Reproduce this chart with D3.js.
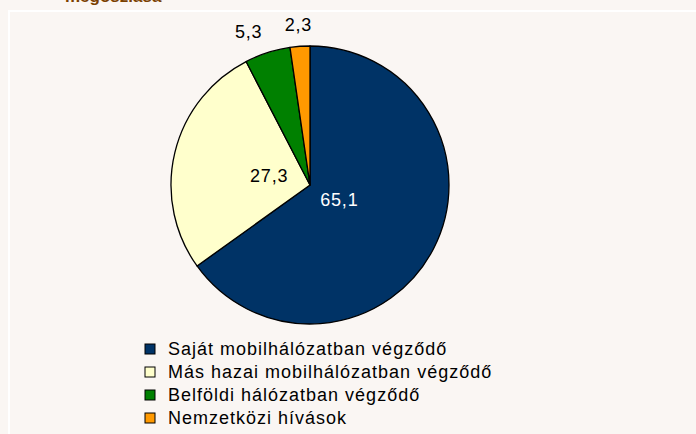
<!DOCTYPE html>
<meta charset="utf-8">
<html>
<head>
<style>
  body { margin: 0; background: #faf6f3; }
  svg { display: block; font-family: "Liberation Sans", Arial, sans-serif; }
</style>
</head>
<body>
<svg width="696" height="434"></svg>
<script src="https://cdnjs.cloudflare.com/ajax/libs/d3/7.8.5/d3.min.js"></script>
<script>
// data
var categories = ["Saját mobilhálózatban végződő", "Más hazai mobilhálózatban végződő",
                  "Belföldi hálózatban végződő", "Nemzetközi hívások"];
var values = [65.1, 27.3, 5.3, 2.3];
var labels = ["65,1", "27,3", "5,3", "2,3"];
var colors = ["#003366", "#ffffcc", "#008000", "#ff9900"];

var svg = d3.select("svg");

// white frame
svg.append("rect")
  .attr("x", 9).attr("y", 11)
  .attr("width", 700).attr("height", 440)
  .attr("fill", "none")
  .attr("stroke", "#ffffff")
  .attr("stroke-width", 2);

// title, cut off at the top as in the original
svg.append("text")
  .attr("x", 65).attr("y", 2)
  .attr("fill", "#7a4000")
  .style("font-size", "17px")
  .style("font-weight", "bold")
  .text("megoszlása");

var cx = 310, cy = 185, r = 139;
var g = svg.append("g").attr("transform", "translate(" + cx + "," + cy + ")");

var pie = d3.pie().sort(null).value(function(d) { return d; });
var arcs = pie(values);
var arc = d3.arc().innerRadius(0).outerRadius(r);

g.selectAll("path")
  .data(arcs)
  .enter().append("path")
  .attr("d", arc)
  .attr("fill", function(d, i) { return colors[i]; })
  .attr("stroke", "#000")
  .attr("stroke-width", 1.3)
  .attr("stroke-linejoin", "round");

// labels: big slices inside, small ones outside
g.selectAll("text.val")
  .data(arcs)
  .enter().append("text")
  .attr("class", "val")
  .attr("transform", function(d, i) {
    var a = (d.startAngle + d.endAngle) / 2, p;
    if (values[i] > 10) {
      var rr = i === 0 ? 33 : 42;
      p = [Math.sin(a) * rr, -Math.cos(a) * rr];
    } else {
      p = [Math.sin(a) * (r + 22) - (i === 2 ? 12 : 0), -Math.cos(a) * (r + 22)];
    }
    return "translate(" + p[0] + "," + p[1] + ")";
  })
  .attr("text-anchor", "middle")
  .attr("dy", "0.35em")
  .attr("fill", function(d, i) { return i === 0 ? "#ffffff" : "#000000"; })
  .style("font-size", "18px")
  .style("letter-spacing", "0.8px")
  .text(function(d, i) { return labels[i]; });

// legend
var legend = svg.append("g").attr("transform", "translate(145,349)");
var rows = legend.selectAll("g")
  .data(categories)
  .enter().append("g")
  .attr("transform", function(d, i) { return "translate(0," + i * 23 + ")"; });
rows.append("rect")
  .attr("x", 0).attr("y", -5)
  .attr("width", 10).attr("height", 10)
  .attr("fill", function(d, i) { return colors[i]; })
  .attr("stroke", "#000")
  .attr("stroke-width", 1);
rows.append("text")
  .attr("x", 23).attr("dy", "0.35em")
  .style("font-size", "18px")
  .style("letter-spacing", "1px")
  .attr("fill", "#000")
  .text(function(d) { return d; });
</script>
</body>
</html>
